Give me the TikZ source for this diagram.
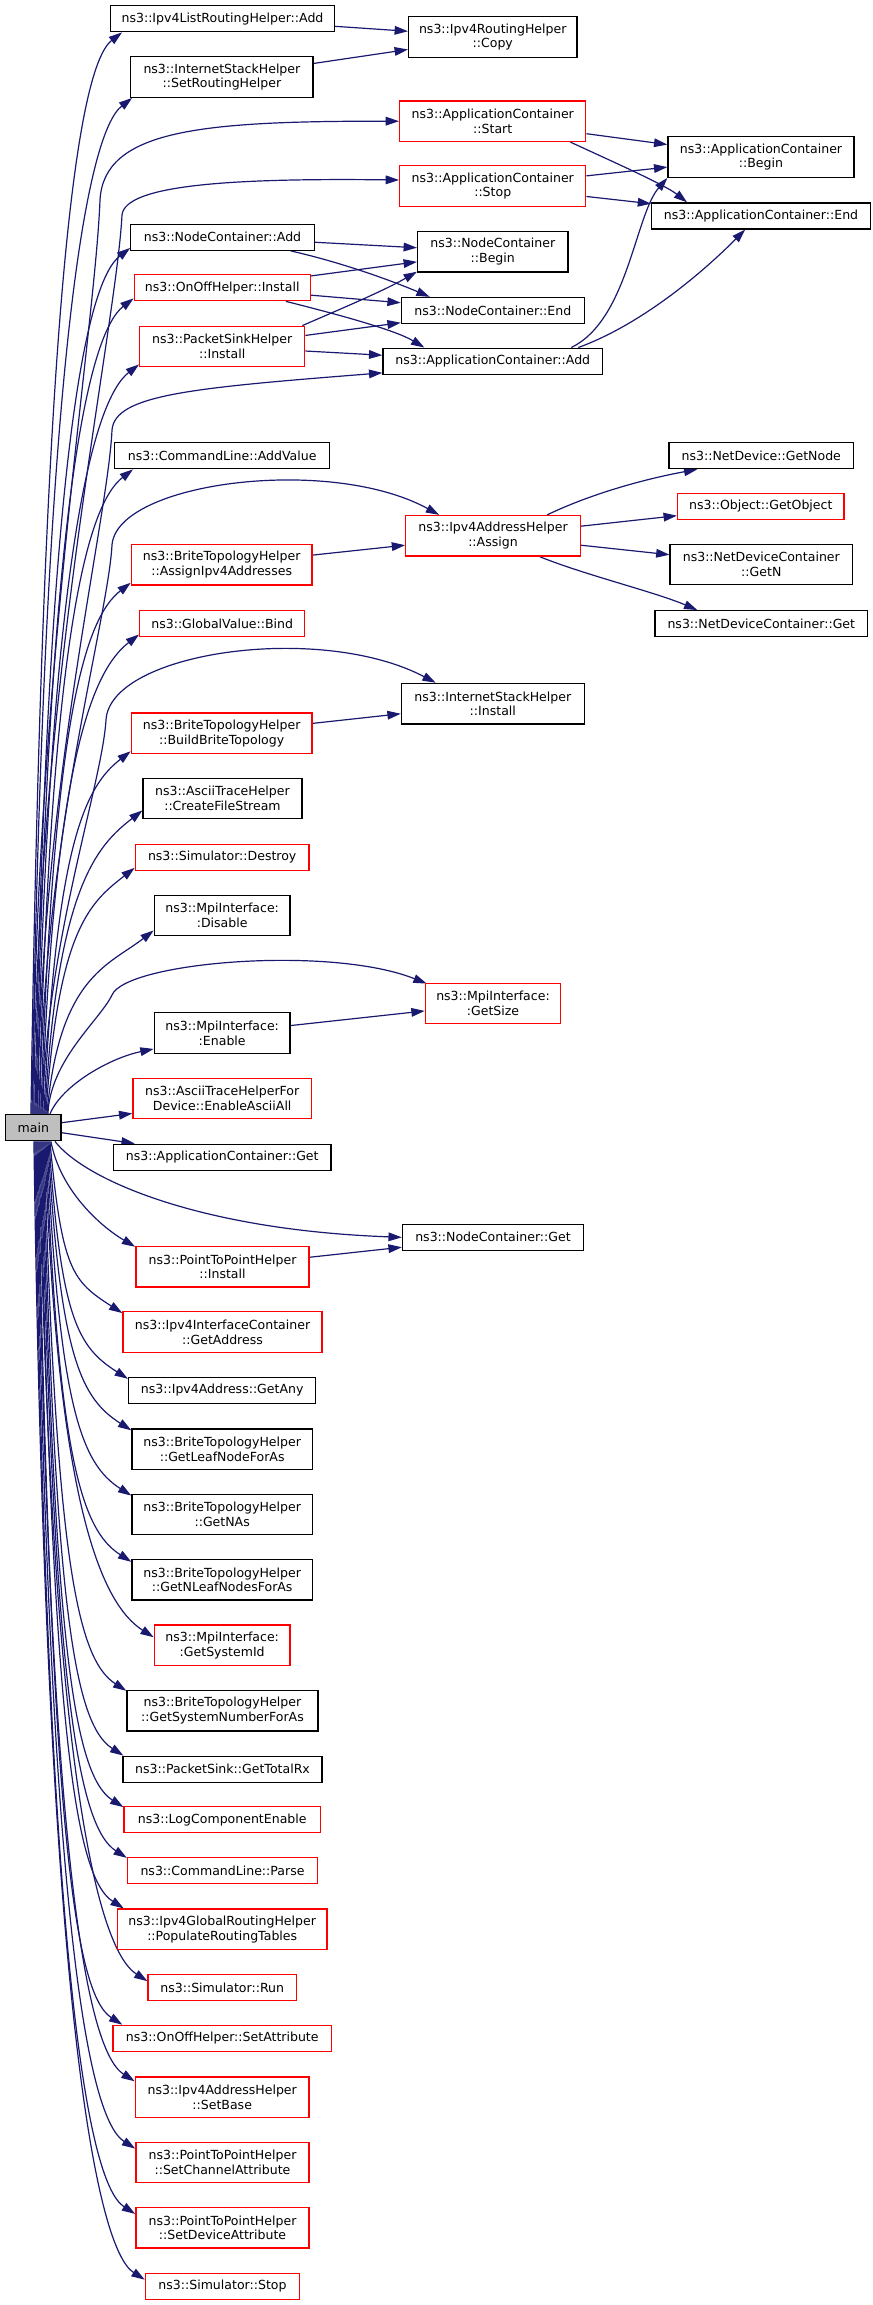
\documentclass[tikz,border=0pt]{standalone}
\usepackage{fontspec}
\setmainfont{DejaVu Sans}
\usetikzlibrary{arrows.meta,calc}
\pgfdeclarelayer{bg}
\pgfsetlayers{bg,main}
\definecolor{edgecol}{HTML}{191970}
\definecolor{boxred}{HTML}{FF0000}
\definecolor{maingrey}{HTML}{BFBFBF}
\tikzset{
  nbox/.style={draw=black, line width=1pt, fill=white, inner sep=0pt, align=center,
     font=\fontsize{9.4pt}{11pt}\selectfont, minimum height=19.5pt},
  dbl/.style={minimum height=30.4pt},
  rbox/.style={nbox, draw=boxred},
  wd/.style={minimum width=#1*0.75pt},
  conn/.style={draw=edgecol, line width=0.9pt, -{Triangle[length=10pt,width=6.5pt]}},
}
\newcommand\mainup[2]{%
  \coordinate (ps) at ($(main.north west)+(#1,0)$);
  \coordinate (pe) at #2;
  \draw[conn] (ps) .. controls ($(ps)!0.75!(ps|-pe)+(12,0)$) and ($(pe)+(-45,35)$) .. (pe);}
\newcommand\maindown[2]{%
  \coordinate (ps) at ($(main.south west)+(#1,0)$);
  \coordinate (pe) at #2;
  \draw[conn] (ps) .. controls ($(ps)!0.75!(ps|-pe)+(12,0)$) and ($(pe)+(-50,-32)$) .. (pe);}
\begin{document}
\begin{tikzpicture}[x=0.75pt,y=-0.75pt]
\begin{pgfonlayer}{bg}
\fill[white] (0,0) rectangle (872,2305);
\end{pgfonlayer}
\path[use as bounding box] (0,0) rectangle (872,2305);

\node[nbox, wd=223.6] (A1) at (222.5,18.7) {ns3::Ipv4ListRoutingHelper::Add};
\node[nbox, dbl, wd=168.3] (C1) at (492.75,37) {ns3::Ipv4RoutingHelper\\::Copy};
\node[nbox, dbl, wd=182.2] (A2) at (221.9,77) {ns3::InternetStackHelper\\::SetRoutingHelper};
\node[rbox, dbl, wd=186.1] (S1) at (492.75,121.2) {ns3::ApplicationContainer\\::Start};
\node[nbox, dbl, wd=186] (B1) at (761,157) {ns3::ApplicationContainer\\::Begin};
\node[rbox, dbl, wd=186.1] (S2) at (492.75,186) {ns3::ApplicationContainer\\::Stop};
\node[nbox, wd=218.5] (E1) at (761,216) {ns3::ApplicationContainer::End};
\node[nbox, wd=183.4] (N1) at (222.5,237.3) {ns3::NodeContainer::Add};
\node[nbox, dbl, wd=150.4] (NB) at (492.8,251.8) {ns3::NodeContainer\\::Begin};
\node[rbox, wd=176] (O1) at (222.2,287.7) {ns3::OnOffHelper::Install};
\node[nbox, wd=182.8] (NE) at (492.8,310.5) {ns3::NodeContainer::End};
\node[rbox, dbl, wd=165] (P1) at (222.2,346.5) {ns3::PacketSinkHelper\\::Install};
\node[nbox, wd=219.6] (AA) at (492.8,361.2) {ns3::ApplicationContainer::Add};
\node[nbox, wd=215.2] (CL) at (222.2,455.7) {ns3::CommandLine::AddValue};
\node[nbox, wd=184.6] (ND) at (761.3,455.7) {ns3::NetDevice::GetNode};
\node[rbox, wd=166.5] (OG) at (760.8,506.5) {ns3::Object::GetObject};
\node[rbox, dbl, wd=174.4] (IA) at (493,535.8) {ns3::Ipv4AddressHelper\\::Assign};
\node[nbox, dbl, wd=182.3] (NN) at (761.3,564.5) {ns3::NetDeviceContainer\\::GetN};
\node[rbox, dbl, wd=180.6] (BA) at (221.7,564.8) {ns3::BriteTopologyHelper\\::AssignIpv4Addresses};
\node[nbox, wd=212.6] (NG) at (761.3,623.7) {ns3::NetDeviceContainer::Get};
\node[rbox, wd=165] (GB) at (222.2,623.8) {ns3::GlobalValue::Bind};
\node[nbox, dbl, wd=182.8] (IS) at (492.8,703.7) {ns3::InternetStackHelper\\::Install};
\node[rbox, dbl, wd=180.6] (BB) at (221.7,733.3) {ns3::BriteTopologyHelper\\::BuildBriteTopology};
\node[nbox, dbl, wd=158.8] (CF) at (222.5,798.5) {ns3::AsciiTraceHelper\\::CreateFileStream};
\node[rbox, wd=173.8] (SD) at (222.2,857.2) {ns3::Simulator::Destroy};
\node[nbox, dbl, wd=135.8] (MD) at (222.2,915.5) {ns3::MpiInterface:\\:Disable};
\node[rbox, dbl, wd=135.3] (MG) at (493,1003.5) {ns3::MpiInterface:\\:GetSize};
\node[nbox, dbl, wd=135.8] (ME) at (222.2,1033) {ns3::MpiInterface:\\:Enable};
\node[rbox, dbl, wd=178.4] (EA) at (222.2,1098.5) {ns3::AsciiTraceHelperFor\\Device::EnableAsciiAll};
\node[nbox, fill=maingrey, wd=55.4] (main) at (33.3,1127.7) {main};
\node[nbox, wd=217.5] (AG) at (222.2,1157.2) {ns3::ApplicationContainer::Get};
\node[nbox, wd=181.1] (NCG) at (493,1237.3) {ns3::NodeContainer::Get};
\node[rbox, dbl, wd=173.3] (PI) at (222.5,1266.7) {ns3::PointToPointHelper\\::Install};
\node[rbox, dbl, wd=199] (IG) at (222.5,1332) {ns3::Ipv4InterfaceContainer\\::GetAddress};
\node[nbox, wd=187.2] (GA) at (222.2,1390.5) {ns3::Ipv4Address::GetAny};
\node[nbox, dbl, wd=180.5] (GL) at (222.2,1449.2) {ns3::BriteTopologyHelper\\::GetLeafNodeForAs};
\node[nbox, dbl, wd=180.5] (GN) at (222.2,1514.5) {ns3::BriteTopologyHelper\\::GetNAs};
\node[nbox, dbl, wd=180.5] (GNL) at (222.2,1579.7) {ns3::BriteTopologyHelper\\::GetNLeafNodesForAs};
\node[rbox, dbl, wd=135.7] (GS) at (222.2,1645.2) {ns3::MpiInterface:\\:GetSystemId};
\node[nbox, dbl, wd=191] (GSN) at (222.5,1710.7) {ns3::BriteTopologyHelper\\::GetSystemNumberForAs};
\node[nbox, wd=199] (PT) at (222.5,1769.2) {ns3::PacketSink::GetTotalRx};
\node[rbox, wd=196.3] (LC) at (222.2,1819.8) {ns3::LogComponentEnable};
\node[rbox, wd=190] (CP) at (222.5,1870.5) {ns3::CommandLine::Parse};
\node[rbox, dbl, wd=209.6] (PR) at (222.2,1929.3) {ns3::Ipv4GlobalRoutingHelper\\::PopulateRoutingTables};
\node[rbox, wd=148.2] (SR) at (222.2,1987.8) {ns3::Simulator::Run};
\node[rbox, wd=218.5] (OS) at (222.2,2038.3) {ns3::OnOffHelper::SetAttribute};
\node[rbox, dbl, wd=173.8] (SB) at (222.2,2097.2) {ns3::Ipv4AddressHelper\\::SetBase};
\node[rbox, dbl, wd=173.3] (SC) at (222.5,2162.5) {ns3::PointToPointHelper\\::SetChannelAttribute};
\node[rbox, dbl, wd=173.3] (SDA) at (222.5,2227.8) {ns3::PointToPointHelper\\::SetDeviceAttribute};
\node[rbox, wd=154.3] (SS) at (222.5,2286.3) {ns3::Simulator::Stop};

\begin{pgfonlayer}{bg}
% secondary edges
\draw[conn] (A1) -- (C1);
\draw[conn] (A2) -- (C1);
\draw[conn] (S1) -- (B1);
\draw[conn] ($(S1.south east)+(-16,0)$) .. controls (620,165) and (665,185) .. ($(E1.north west)+(36,0)$);
\draw[conn] (S2) -- (B1);
\draw[conn] (S2) -- (E1);
\draw[conn] (N1) -- (NB);
\draw[conn] ($(N1.south east)+(-24,0)$) .. controls (340,262) and (390,280) .. ($(NE.north west)+(29,0)$);
\draw[conn] (O1) -- (NB);
\draw[conn] (O1) -- (NE);
\draw[conn] ($(O1.south east)+(-25,0)$) .. controls (340,315) and (395,330) .. ($(AA.north west)+(42,0)$);
\draw[conn] ($(P1.north east)+(-3,0)$) .. controls (350,305) and (385,290) .. ($(NB.south west)+(0,-1)$);
\draw[conn] (P1) -- (NE);
\draw[conn] (P1) -- (AA);
\draw[conn] ($(AA.north east)+(-32,0)$) .. controls (628,320) and (635,215) .. (B1.south west);
\draw[conn] ($(AA.north east)+(-25,0)$) .. controls (640,325) and (700,275) .. ($(E1.south west)+(94,0)$);
\draw[conn] ($(IA.north west)+(142,0)$) .. controls (595,492) and (650,478) .. ($(ND.south west)+(29,0)$);
\draw[conn] (IA) -- (OG);
\draw[conn] (IA) -- (NN);
\draw[conn] ($(IA.south east)+(-41,0)$) .. controls (585,575) and (655,592) .. ($(NG.north west)+(43,0)$);
\draw[conn] (BA) -- (IA);
\draw[conn] (BB) -- (IS);
\draw[conn] (ME) -- (MG);
\draw[conn] (PI) -- (NCG);

% edges from main upwards
\mainup{26}{($(A1.south west)+(12,0)$)}
\mainup{27}{($(A2.south west)+(2,0)$)}
\coordinate (ps) at ($(main.north west)+(28,0)$);
\draw[conn] (ps) .. controls (34,700) and (95,330) .. (100,200) .. controls (104,130) and (200,121) .. (S1.west);
\coordinate (ps) at ($(main.north west)+(29,0)$);
\draw[conn] (ps) .. controls (35,700) and (116,330) .. (122,215) .. controls (125,185) and (230,178) .. ($(S2.west)+(0,-6)$);
\mainup{30}{($(N1.south west)+(0,-3)$)}
\mainup{31}{($(O1.south west)+(0,-3)$)}
\mainup{32}{($(P1.south west)+(0,-3)$)}
\coordinate (ps) at ($(main.north west)+(33,0)$);
\draw[conn] (ps) .. controls (39,800) and (108,520) .. (112,430) .. controls (115,395) and (190,388) .. ($(AA.south west)+(0,-2)$);
\mainup{34}{($(CL.south west)+(19,0)$)}
\coordinate (ps) at ($(main.north west)+(35,0)$);
\draw[conn] (ps) .. controls (41,850) and (108,620) .. (112,545) .. controls (117,482) and (330,455) .. ($(IA.north west)+(34,0)$);
\mainup{36}{($(BA.south west)+(0,-3)$)}
\mainup{37}{($(GB.south west)+(0,-3)$)}
\coordinate (ps) at ($(main.north west)+(38,0)$);
\draw[conn] (ps) .. controls (44,950) and (102,785) .. (106,720) .. controls (110,652) and (320,622) .. ($(IS.north west)+(35,0)$);
\mainup{39}{($(BB.south west)+(0,-3)$)}
\mainup{40}{($(CF.south west)+(0,-9)$)}
\mainup{41}{($(SD.south west)+(0,-3)$)}
\mainup{42}{($(MD.south west)+(0,-6)$)}
\coordinate (ps) at ($(main.north west)+(43,0)$);
\draw[conn] (ps) .. controls (50,1060) and (100,1020) .. (112,995) .. controls (126,962) and (330,945) .. ($(MG.north west)+(2,1)$);
\draw[conn] ($(main.north west)+(45,0)$) .. controls (62,1085) and (110,1058) .. ($(ME.south west)+(0,-5)$);
\draw[conn] ($(main.east)+(0,-5)$) -- ($(EA.south west)+(0,-6)$);

% edges from main downwards
\draw[conn] ($(main.east)+(0,5)$) -- ($(AG.north west)+(22,0)$);
\coordinate (ps) at ($(main.south west)+(50,0)$);
\draw[conn] (ps) .. controls (85,1180) and (200,1230) .. (NCG.west);
\draw[conn] ($(main.south west)+(46,0)$) .. controls (60,1190) and (100,1226) .. ($(PI.north west)+(0,1)$);
\maindown{45}{($(IG.north west)+(0,2)$)}
\maindown{44}{($(GA.north west)+(0,2)$)}
\maindown{43}{($(GL.north west)+(0,2)$)}
\maindown{42}{($(GN.north west)+(0,2)$)}
\maindown{41}{($(GNL.north west)+(0,3)$)}
\maindown{40}{($(GS.north west)+(0,13)$)}
\maindown{39}{($(GSN.north west)+(0,1)$)}
\maindown{38}{($(PT.north west)+(1,0)$)}
\maindown{37}{($(LC.north west)+(0,1)$)}
\maindown{36}{($(CP.north west)+(0,1)$)}
\maindown{35}{($(PR.north west)+(7,0)$)}
\maindown{34}{($(SR.north west)+(0,7)$)}
\maindown{33}{($(OS.north west)+(10,0)$)}
\maindown{32}{($(SB.north west)+(0,5)$)}
\maindown{31}{($(SC.north west)+(0,7)$)}
\maindown{30}{($(SDA.north west)+(0,7)$)}
\maindown{29}{($(SS.north west)+(0,7)$)}
\end{pgfonlayer}
\end{tikzpicture}
\end{document}
